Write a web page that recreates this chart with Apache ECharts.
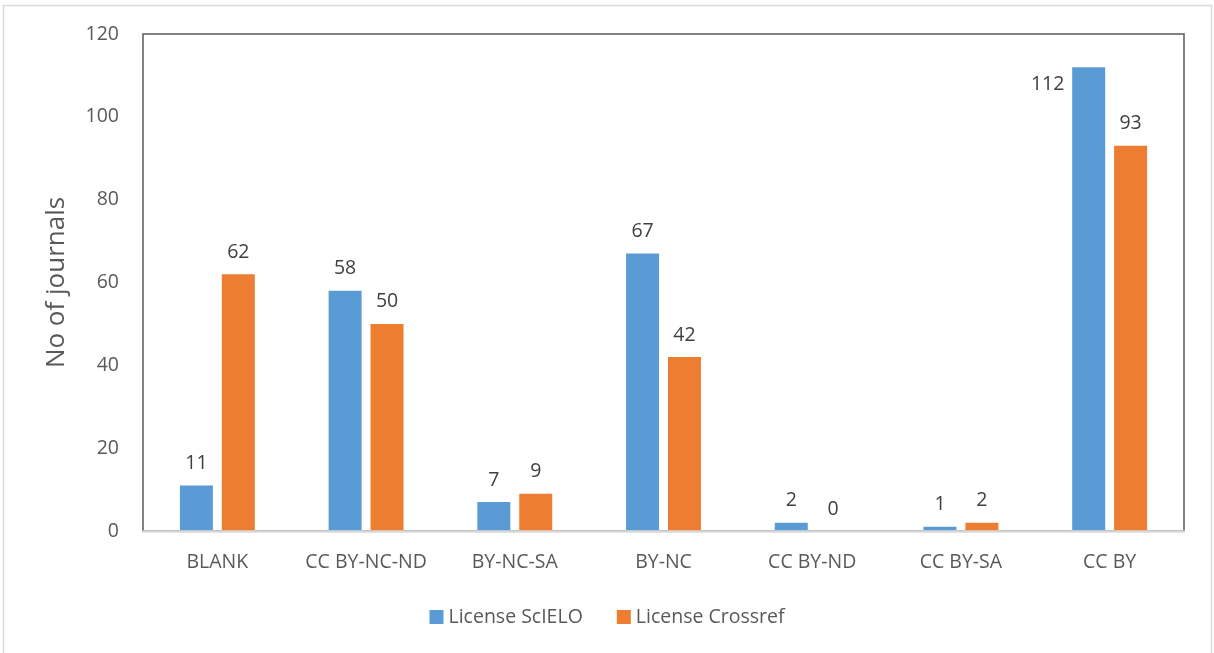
<!DOCTYPE html>
<html><head><meta charset="utf-8">
<script src="https://cdn.jsdelivr.net/npm/echarts@6/dist/echarts.min.js"></script>
<style>html,body{margin:0;padding:0;background:#fff}#c{width:1214px;height:653px}</style>
</head><body><div id="c"></div>
<script>
const categories = ['BLANK','CC BY-NC-ND','BY-NC-SA','BY-NC','CC BY-ND','CC BY-SA','CC BY'];
const scielo = [11,58,7,67,2,1,112];
const crossref = [62,50,9,42,0,2,93];
const yTicks = [0,20,40,60,80,100,120];
const FONT = 'Open Sans';
const chart = echarts.init(document.getElementById('c'));
const lbl = {show:true, position:'top', distance:12, color:'#404040', fontSize:19.5, fontFamily:FONT};
chart.setOption({
  animation:false,
  textStyle:{fontFamily:FONT},
  graphic:[{type:'rect', shape:{x:3.5,y:5.5,width:1208,height:660}, style:{fill:'none', stroke:'#d9d9d9', lineWidth:1.5}, z:-10}],
  grid:{left:143, right:30, top:34, bottom:122, show:true, borderColor:'#595959', borderWidth:1.5, backgroundColor:'transparent'},
  legend:{bottom:21, left:'center', itemWidth:14, itemHeight:14, itemGap:34, icon:'rect',
    textStyle:{color:'#595959', fontSize:19.5, fontFamily:FONT}, data:['License ScIELO','License Crossref']},
  xAxis:{type:'category', data:categories, z:10,
    axisLine:{lineStyle:{color:'#d9d9d9', width:2.5}}, axisTick:{show:false},
    axisLabel:{color:'#595959', fontSize:19.5, fontFamily:FONT, margin:21, interval:0}},
  yAxis:{type:'value', min:yTicks[0], max:yTicks[yTicks.length-1], interval:20,
    name:'No of journals', nameLocation:'middle', nameGap:73,
    nameTextStyle:{color:'#595959', fontSize:26, fontFamily:FONT},
    axisLine:{show:false}, axisTick:{show:false}, splitLine:{show:false},
    axisLabel:{color:'#595959', fontSize:19.5, fontFamily:FONT, margin:24}},
  series:[
    {name:'License ScIELO', type:'bar', barWidth:33, barGap:'27%', itemStyle:{color:'#5b9bd5'},
     label:lbl,
     data:scielo.map((v,i)=> i===6 ? {value:v, label:{offset:[-41,39]}} : v)},
    {name:'License Crossref', type:'bar', barWidth:33, barGap:'27%', itemStyle:{color:'#ed7d31'},
     label:lbl, data:crossref}
  ]
});
</script></body></html>
